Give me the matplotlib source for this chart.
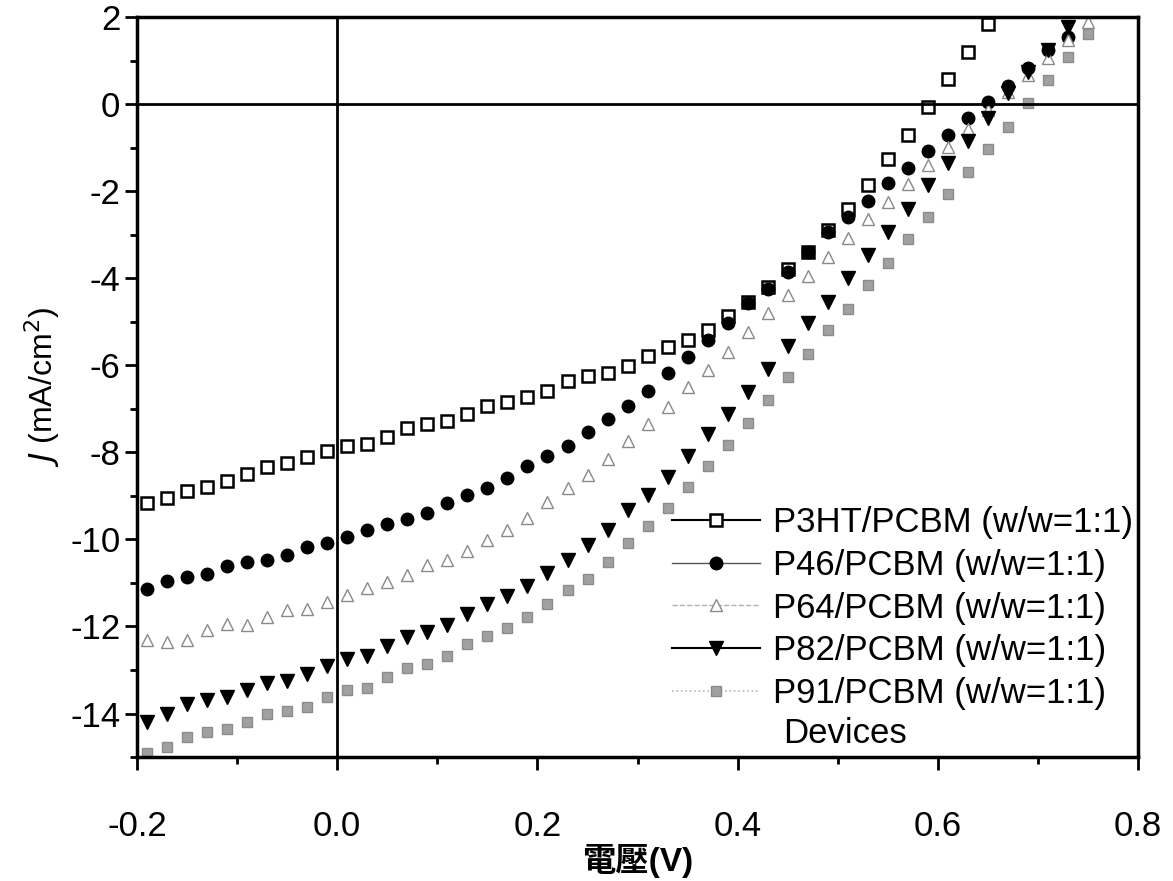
import numpy as np
import matplotlib
matplotlib.use("Agg")
from matplotlib import pyplot as plt
from matplotlib.lines import Line2D
from matplotlib.ticker import MultipleLocator, FormatStrFormatter

plt.rcParams['font.family'] = ['Liberation Sans', 'Noto Sans CJK TC', 'DejaVu Sans']
plt.rcParams['axes.unicode_minus'] = False

# bias voltage grid (V), 0.02 V steps starting at -0.19
v_start = -0.19
v_step = 0.02

j_p3ht = [-9.16, -9.04, -8.90, -8.79, -8.67, -8.50, -8.33, -8.25, -8.11, -7.98,
          -7.85, -7.81, -7.64, -7.45, -7.34, -7.28, -7.13, -6.94, -6.85, -6.74,
          -6.59, -6.36, -6.25, -6.18, -6.01, -5.79, -5.59, -5.43, -5.18, -4.86,
          -4.55, -4.20, -3.80, -3.39, -2.90, -2.42, -1.85, -1.27, -0.70, -0.06,
          0.57, 1.20, 1.85]
j_p46 = [-11.14, -10.95, -10.87, -10.80, -10.62, -10.53, -10.47, -10.36, -10.18, -10.08,
         -9.95, -9.79, -9.64, -9.53, -9.39, -9.16, -8.99, -8.83, -8.59, -8.32,
         -8.09, -7.86, -7.54, -7.23, -6.93, -6.58, -6.18, -5.80, -5.43, -5.04,
         -4.58, -4.24, -3.85, -3.39, -2.94, -2.59, -2.23, -1.82, -1.46, -1.07,
         -0.70, -0.31, 0.05, 0.41, 0.82, 1.25, 1.55]
j_p64 = [-12.32, -12.36, -12.31, -12.08, -11.94, -11.96, -11.79, -11.63, -11.59, -11.44,
         -11.27, -11.12, -10.98, -10.81, -10.58, -10.47, -10.27, -10.01, -9.78, -9.51,
         -9.15, -8.81, -8.53, -8.15, -7.74, -7.36, -6.97, -6.51, -6.11, -5.69,
         -5.23, -4.81, -4.39, -3.95, -3.51, -3.07, -2.65, -2.25, -1.83, -1.39,
         -0.98, -0.58, -0.14, 0.27, 0.67, 1.05, 1.47, 1.89]
j_p82 = [-14.20, -14.01, -13.79, -13.70, -13.62, -13.47, -13.31, -13.26, -13.09, -12.92,
         -12.74, -12.69, -12.44, -12.24, -12.13, -11.96, -11.71, -11.48, -11.31, -11.08,
         -10.77, -10.48, -10.14, -9.78, -9.33, -8.99, -8.57, -8.09, -7.59, -7.11,
         -6.61, -6.08, -5.55, -5.03, -4.54, -3.99, -3.47, -2.94, -2.40, -1.86,
         -1.35, -0.84, -0.31, 0.25, 0.74, 1.24, 1.78]
j_p91 = [-14.91, -14.76, -14.54, -14.43, -14.35, -14.20, -14.02, -13.95, -13.84, -13.63,
         -13.46, -13.41, -13.15, -12.95, -12.86, -12.67, -12.41, -12.21, -12.03, -11.79,
         -11.48, -11.16, -10.90, -10.52, -10.08, -9.70, -9.29, -8.80, -8.32, -7.84,
         -7.33, -6.80, -6.28, -5.75, -5.20, -4.70, -4.16, -3.65, -3.11, -2.59,
         -2.06, -1.56, -1.04, -0.52, 0.02, 0.55, 1.07, 1.62]

labels = ['P3HT/PCBM (w/w=1:1)', 'P46/PCBM (w/w=1:1)', 'P64/PCBM (w/w=1:1)',
          'P82/PCBM (w/w=1:1)', 'P91/PCBM (w/w=1:1)']

# marker, size, face, edge, edge width, legend line style, legend line colour, line width
styles = [
    ('s', 8.5, 'white', 'black', 1.8, '-', 'black', 1.5),
    ('o', 9, 'black', 'black', 1.0, '-', '#555555', 1.0),
    ('^', 9, 'white', '#8a8a8a', 1.0, '--', '#b0b0b0', 1.0),
    ('v', 10, 'black', 'black', 1.0, '-', 'black', 1.5),
    ('s', 6.5, '#a0a0a0', '#8c8c8c', 1.0, ':', '#b8b8b8', 1.2),
]

fig = plt.figure(figsize=(11.73, 8.81), dpi=100)
ax = fig.add_axes([0.1168, 0.1407, 0.8535, 0.840])

handles = []
for j, lab, st in zip([j_p3ht, j_p46, j_p64, j_p82, j_p91], labels, styles):
    v = v_start + v_step * np.arange(len(j))
    m, ms, fc, ec, mew, ls, lc, lw = st
    ax.plot(v, j, linestyle='none', marker=m, markersize=ms,
            markerfacecolor=fc, markeredgecolor=ec, markeredgewidth=mew)
    handles.append(Line2D([], [], linestyle=ls, color=lc, linewidth=lw,
                          marker=m, markersize=ms, markerfacecolor=fc,
                          markeredgecolor=ec, markeredgewidth=mew))

ax.axhline(0, color='black', linewidth=2)
ax.axvline(0, color='black', linewidth=2)

ax.set_xlim(-0.2, 0.8)
ax.set_ylim(-15, 2)
ax.xaxis.set_major_locator(MultipleLocator(0.2))
ax.xaxis.set_minor_locator(MultipleLocator(0.1))
ax.yaxis.set_major_locator(MultipleLocator(2))
ax.yaxis.set_minor_locator(MultipleLocator(1))
ax.xaxis.set_major_formatter(FormatStrFormatter('%.1f'))

for s in ax.spines.values():
    s.set_linewidth(2.5)
ax.tick_params(which='major', direction='out', length=9, width=2, labelsize=25)
ax.tick_params(which='minor', direction='out', length=5, width=2)
ax.tick_params(axis='x', which='major', pad=29)
ax.tick_params(axis='y', which='major', pad=3)

ax.set_ylabel('$J$ (mA/cm$^2$)', fontsize=23, labelpad=6)
ax.set_xlabel('電壓(V)', fontsize=24, labelpad=1, fontweight='bold')

ax.legend(handles, labels, loc='upper left', bbox_to_anchor=(0.534, 0.339),
          frameon=False, fontsize=25, handlelength=2.54, handletextpad=0.37,
          labelspacing=0.28, borderpad=0, borderaxespad=0)
ax.text(0.645, 0.032, 'Devices', transform=ax.transAxes, fontsize=25,
        va='center', ha='left')

plt.savefig('out.png', dpi=100)
